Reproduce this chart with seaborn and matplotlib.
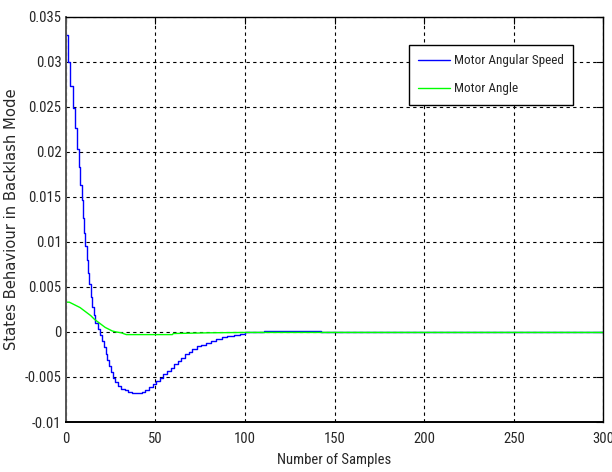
import os
import matplotlib
matplotlib.use("Agg")
import matplotlib.pyplot as plt
from matplotlib import font_manager
import seaborn as sns

# ---- data ----
speed_x = [0, 1.4, 2.6, 3.8, 5.1, 6.3, 7.2, 8.0, 8.8, 9.5, 10.2, 11.0, 11.7, 12.5, 13.2,
           14.0, 14.8, 15.6, 16.6, 18.0, 19.2, 20.2, 21.2, 22.2, 23.2, 24.2, 25.2, 26.3,
           27.5, 29.0, 31.0, 33.0, 35.0, 37.0, 42.5, 44.5, 46.5, 48.5, 50.5, 52.5, 54.5,
           56.5, 58.5, 60.5, 62.5, 64.5, 66.5, 68.5, 70.5, 73.0, 75.5, 78.0, 81.0, 84.0,
           87.0, 90.0, 94.0, 97.0, 100.0, 110.6, 142.4, 300.0]
speed_y = [0.0330, 0.0300, 0.0273, 0.0249, 0.0226, 0.0203, 0.0183, 0.0163, 0.0146, 0.0126,
           0.0110, 0.0095, 0.0080, 0.0065, 0.0053, 0.0039, 0.0028, 0.0019, 0.0010, 0.0003,
           -0.0003, -0.0010, -0.0017, -0.0024, -0.0031, -0.0038, -0.0045, -0.0051, -0.0056,
           -0.0060, -0.0063, -0.0065, -0.0067, -0.0068, -0.0067, -0.0065, -0.0061, -0.0058,
           -0.0055, -0.0051, -0.0047, -0.0043, -0.0040, -0.0036, -0.0032, -0.0029, -0.0025,
           -0.0022, -0.0019, -0.0016, -0.0014, -0.0012, -0.0010, -0.0008, -0.0006, -0.0004,
           -0.0003, -0.0002, 0.0, 0.0001, 0.0, 0.0]

angle_x = [0, 2, 4, 6, 8, 10, 12, 14, 16, 18, 20, 22, 24, 26, 28, 31, 33.8, 59.5, 60, 80,
           100, 300]
angle_y = [0.0033, 0.0033, 0.0031, 0.0029, 0.0027, 0.0024, 0.0021, 0.0018, 0.0014, 0.0011,
           0.0008, 0.0005, 0.0003, 0.0001, 0.0000, -0.0001, -0.0003, -0.0003, -0.00018,
           -0.0001, -0.00006, -0.00006]

x_ticks = [0, 50, 100, 150, 200, 250, 300]
y_ticks = [-0.01, -0.005, 0, 0.005, 0.01, 0.015, 0.02, 0.025, 0.03, 0.035]
y_tick_labels = ["-0.01", "-0.005", "0", "0.005", "0.01", "0.015", "0.02", "0.025", "0.03", "0.035"]
series_names = ["Motor Angular Speed", "Motor Angle"]

# ---- style ----
sns.set_style("white")
installed = {f.name for f in font_manager.fontManager.ttflist}
narrow_font = None
for cand in ["Liberation Sans Narrow", "Arial Narrow", "Roboto Condensed",
             "Open Sans Condensed"]:
    if cand in installed:
        narrow_font = cand
        break
if narrow_font is not None:
    main_font, tick_size, leg_size = narrow_font, 10.5, 9.5
else:
    main_font, tick_size, leg_size = "Liberation Sans", 9.5, 9.0
plt.rcParams["font.family"] = [main_font, "DejaVu Sans"]

# regular-width sans for the y label
dv_path = os.path.join(matplotlib.get_data_path(), "fonts", "ttf", "DejaVuSans.ttf")
if os.path.exists(dv_path):
    ylab_fp = font_manager.FontProperties(fname=dv_path, size=10.6)
else:
    ylab_fp = font_manager.FontProperties(family="DejaVu Sans", stretch="normal", size=10.6)

fig = plt.figure(figsize=(6.12, 4.72), dpi=100)
ax = fig.add_axes([0.1074, 0.1059, 0.9861 - 0.1074, 0.965 - 0.1059])

sns.lineplot(x=speed_x, y=speed_y, ax=ax, color=(0, 0, 1), lw=1.0,
             drawstyle="steps-post", estimator=None, sort=False, label=series_names[0])
sns.lineplot(x=angle_x, y=angle_y, ax=ax, color=(0, 1, 0), lw=1.0,
             estimator=None, sort=False, label=series_names[1])

ax.set_xlim(0, 300)
ax.set_ylim(-0.01, 0.035)
ax.set_xticks(x_ticks)
ax.set_xticklabels([str(t) for t in x_ticks])
ax.set_yticks(y_ticks)
ax.set_yticklabels(y_tick_labels)

ax.grid(True, color="black", linestyle=(0, (3, 3)), linewidth=0.8)
ax.set_axisbelow(True)
for s in ax.spines.values():
    s.set_visible(True)
    s.set_color("black")
    s.set_linewidth(1.0)
ax.spines["left"].set_color("#555555")
ax.spines["left"].set_linewidth(1.4)
ax.spines["bottom"].set_linewidth(1.4)

ax.tick_params(axis="both", which="both", direction="in", length=5, width=0.8,
               top=True, right=True, labelsize=tick_size, color="black")
ax.tick_params(axis="y", pad=3)
ax.tick_params(axis="x", pad=7)

ax.set_xlabel("Number of Samples", fontsize=tick_size)
ax.xaxis.set_label_coords(0.5, -0.076)
ax.set_ylabel("States Behaviour in Backlash Mode", fontproperties=ylab_fp)
ax.yaxis.set_label_coords(-0.086, 0.5)

leg = ax.legend(loc="upper left", bbox_to_anchor=(0.638, 0.9297), fontsize=leg_size,
                frameon=True, fancybox=False, framealpha=1, edgecolor="black",
                handlelength=2.45, handletextpad=0.3, labelspacing=1.15,
                borderpad=0.7, borderaxespad=0)
leg.get_frame().set_linewidth(1.0)

fig.savefig("out.png", dpi=100)
